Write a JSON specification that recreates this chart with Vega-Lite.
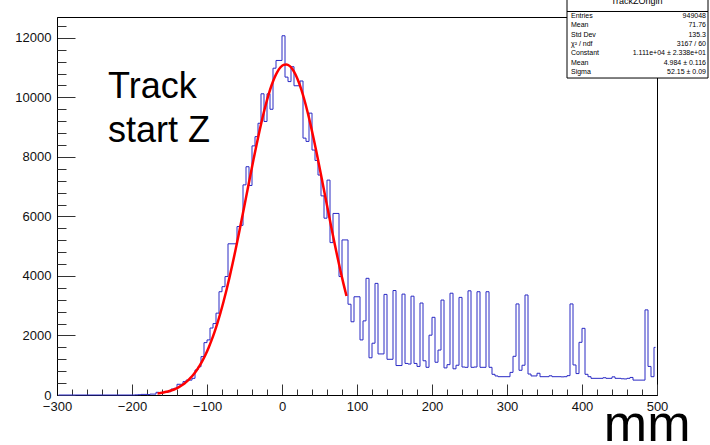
{
  "$schema": "https://vega.github.io/schema/vega-lite/v6.json",
  "width": 600,
  "height": 378,
  "autosize": {"type": "none"},
  "padding": {"left": 57, "top": 17, "right": 53, "bottom": 50},
  "background": "white",
  "config": {
    "font": "Liberation Sans",
    "view": {"stroke": "#000", "strokeWidth": 1}
  },
  "datasets": {
    "hist": [
      {"z": -298, "n": 0}, {"z": -294, "n": 0}, {"z": -290, "n": 0}, {"z": -286, "n": 0}, {"z": -282, "n": 0},
      {"z": -278, "n": 0}, {"z": -274, "n": 0}, {"z": -270, "n": 0}, {"z": -266, "n": 0}, {"z": -262, "n": 0},
      {"z": -258, "n": 0}, {"z": -254, "n": 0}, {"z": -250, "n": 0}, {"z": -246, "n": 0}, {"z": -242, "n": 0},
      {"z": -238, "n": 0}, {"z": -234, "n": 0}, {"z": -230, "n": 0}, {"z": -226, "n": 0}, {"z": -222, "n": 0},
      {"z": -218, "n": 0}, {"z": -214, "n": 0}, {"z": -210, "n": 0}, {"z": -206, "n": 0}, {"z": -202, "n": 0},
      {"z": -198, "n": 0}, {"z": -194, "n": 5}, {"z": -190, "n": 10}, {"z": -186, "n": 20}, {"z": -182, "n": 20},
      {"z": -178, "n": 15}, {"z": -174, "n": 30}, {"z": -170, "n": 30}, {"z": -166, "n": 90}, {"z": -162, "n": 80},
      {"z": -158, "n": 90}, {"z": -154, "n": 90}, {"z": -150, "n": 110}, {"z": -146, "n": 200}, {"z": -142, "n": 225},
      {"z": -138, "n": 360}, {"z": -134, "n": 360}, {"z": -130, "n": 450}, {"z": -126, "n": 500}, {"z": -122, "n": 500},
      {"z": -118, "n": 560}, {"z": -114, "n": 840}, {"z": -110, "n": 950}, {"z": -106, "n": 1290}, {"z": -102, "n": 1760},
      {"z": -98, "n": 1850}, {"z": -94, "n": 2250}, {"z": -90, "n": 2400}, {"z": -86, "n": 2750}, {"z": -82, "n": 3470},
      {"z": -78, "n": 3640}, {"z": -74, "n": 3980}, {"z": -70, "n": 5080}, {"z": -66, "n": 5080}, {"z": -62, "n": 5080},
      {"z": -58, "n": 5660}, {"z": -54, "n": 5700}, {"z": -50, "n": 7060}, {"z": -46, "n": 7670}, {"z": -42, "n": 7040},
      {"z": -38, "n": 8370}, {"z": -34, "n": 8680}, {"z": -30, "n": 9130}, {"z": -26, "n": 10120}, {"z": -22, "n": 9190},
      {"z": -18, "n": 10120}, {"z": -14, "n": 9600}, {"z": -10, "n": 10980}, {"z": -6, "n": 11240}, {"z": -2, "n": 11240},
      {"z": 2, "n": 12070}, {"z": 6, "n": 10680}, {"z": 10, "n": 10530}, {"z": 14, "n": 11030}, {"z": 18, "n": 10390},
      {"z": 22, "n": 10390}, {"z": 26, "n": 10550}, {"z": 30, "n": 8630}, {"z": 34, "n": 8520}, {"z": 38, "n": 9470},
      {"z": 42, "n": 8230}, {"z": 46, "n": 7880}, {"z": 50, "n": 7390}, {"z": 54, "n": 6690}, {"z": 58, "n": 5940},
      {"z": 62, "n": 7220}, {"z": 66, "n": 5120}, {"z": 70, "n": 6100}, {"z": 74, "n": 6100}, {"z": 78, "n": 3980},
      {"z": 82, "n": 5210}, {"z": 86, "n": 5210}, {"z": 90, "n": 3050}, {"z": 94, "n": 2460}, {"z": 98, "n": 3300},
      {"z": 102, "n": 3300}, {"z": 106, "n": 1850}, {"z": 110, "n": 2490}, {"z": 114, "n": 3920}, {"z": 118, "n": 1250},
      {"z": 122, "n": 1740}, {"z": 126, "n": 3750}, {"z": 130, "n": 1380}, {"z": 134, "n": 1380}, {"z": 138, "n": 3380},
      {"z": 142, "n": 1200}, {"z": 146, "n": 1200}, {"z": 150, "n": 3510}, {"z": 154, "n": 990}, {"z": 158, "n": 990},
      {"z": 162, "n": 3390}, {"z": 166, "n": 1060}, {"z": 170, "n": 1040}, {"z": 174, "n": 3320}, {"z": 178, "n": 1060},
      {"z": 182, "n": 960}, {"z": 186, "n": 3090}, {"z": 190, "n": 1150}, {"z": 194, "n": 930}, {"z": 198, "n": 2010},
      {"z": 202, "n": 2610}, {"z": 206, "n": 1100}, {"z": 210, "n": 1510}, {"z": 214, "n": 3190}, {"z": 218, "n": 910},
      {"z": 222, "n": 1020}, {"z": 226, "n": 3420}, {"z": 230, "n": 880}, {"z": 234, "n": 1000}, {"z": 238, "n": 3280},
      {"z": 242, "n": 940}, {"z": 246, "n": 930}, {"z": 250, "n": 3500}, {"z": 254, "n": 930}, {"z": 258, "n": 940},
      {"z": 262, "n": 3470}, {"z": 266, "n": 930}, {"z": 270, "n": 930}, {"z": 274, "n": 3470}, {"z": 278, "n": 930},
      {"z": 282, "n": 695}, {"z": 286, "n": 640}, {"z": 290, "n": 615}, {"z": 294, "n": 615}, {"z": 298, "n": 615},
      {"z": 302, "n": 615}, {"z": 306, "n": 760}, {"z": 310, "n": 1300}, {"z": 314, "n": 3060}, {"z": 318, "n": 830},
      {"z": 322, "n": 1000}, {"z": 326, "n": 3360}, {"z": 330, "n": 705}, {"z": 334, "n": 640}, {"z": 338, "n": 640},
      {"z": 342, "n": 730}, {"z": 346, "n": 615}, {"z": 350, "n": 615}, {"z": 354, "n": 615}, {"z": 358, "n": 645},
      {"z": 362, "n": 615}, {"z": 366, "n": 615}, {"z": 370, "n": 615}, {"z": 374, "n": 610}, {"z": 378, "n": 615},
      {"z": 382, "n": 650}, {"z": 386, "n": 3060}, {"z": 390, "n": 1010}, {"z": 394, "n": 720}, {"z": 398, "n": 1770},
      {"z": 402, "n": 2240}, {"z": 406, "n": 695}, {"z": 410, "n": 615}, {"z": 414, "n": 560}, {"z": 418, "n": 560},
      {"z": 422, "n": 560}, {"z": 426, "n": 560}, {"z": 430, "n": 580}, {"z": 434, "n": 560}, {"z": 438, "n": 560},
      {"z": 442, "n": 610}, {"z": 446, "n": 560}, {"z": 450, "n": 560}, {"z": 454, "n": 545}, {"z": 458, "n": 540},
      {"z": 462, "n": 560}, {"z": 466, "n": 590}, {"z": 470, "n": 500}, {"z": 474, "n": 500}, {"z": 478, "n": 500},
      {"z": 482, "n": 500}, {"z": 486, "n": 2860}, {"z": 490, "n": 960}, {"z": 494, "n": 615}, {"z": 498, "n": 1600}
    ],
    "fit": [
      {"z": -166, "f": 51.4}, {"z": -162, "f": 66.0}, {"z": -158, "f": 84.1}, {"z": -154, "f": 106.5},
      {"z": -150, "f": 134.2}, {"z": -146, "f": 168.0}, {"z": -142, "f": 209.2}, {"z": -138, "f": 259.0},
      {"z": -134, "f": 318.7}, {"z": -130, "f": 389.8}, {"z": -126, "f": 474.0}, {"z": -122, "f": 572.9},
      {"z": -118, "f": 688.5}, {"z": -114, "f": 822.8}, {"z": -110, "f": 977.3}, {"z": -106, "f": 1153.8},
      {"z": -102, "f": 1354.6}, {"z": -98, "f": 1580.7}, {"z": -94, "f": 1834.3}, {"z": -90, "f": 2114.9},
      {"z": -86, "f": 2425.2}, {"z": -82, "f": 2764.4}, {"z": -78, "f": 3132.5}, {"z": -74, "f": 3528.3},
      {"z": -70, "f": 3951.2}, {"z": -66, "f": 4399.2}, {"z": -62, "f": 4868.9}, {"z": -58, "f": 5357.0},
      {"z": -54, "f": 5859.6}, {"z": -50, "f": 6372.3}, {"z": -46, "f": 6888.8}, {"z": -42, "f": 7403.5},
      {"z": -38, "f": 7910.1}, {"z": -34, "f": 8401.6}, {"z": -30, "f": 8871.1}, {"z": -26, "f": 9312.2},
      {"z": -22, "f": 9717.8}, {"z": -18, "f": 10081.6}, {"z": -14, "f": 10397.6}, {"z": -10, "f": 10660.7},
      {"z": -6, "f": 10866.2}, {"z": -2, "f": 11010.8}, {"z": 2, "f": 11091.8}, {"z": 6, "f": 11107.9},
      {"z": 10, "f": 11058.7}, {"z": 14, "f": 10945.3}, {"z": 18, "f": 10769.3}, {"z": 22, "f": 10534.2},
      {"z": 26, "f": 10243.4}, {"z": 30, "f": 9902.5}, {"z": 34, "f": 9516.7}, {"z": 38, "f": 9092.3},
      {"z": 42, "f": 8635.9}, {"z": 46, "f": 8154.4}, {"z": 50, "f": 7654.5}, {"z": 54, "f": 7142.9},
      {"z": 58, "f": 6626.6}, {"z": 62, "f": 6111.4}, {"z": 66, "f": 5603.5}, {"z": 70, "f": 5107.3},
      {"z": 74, "f": 4627.9}, {"z": 78, "f": 4169.1}, {"z": 82, "f": 3733.5}, {"z": 86, "f": 3323.9}
    ],
    "stats": [
      {"row": 1, "label": "Entries", "value": "949048"},
      {"row": 2, "label": "Mean", "value": "71.76"},
      {"row": 3, "label": "Std Dev", "value": "135.3"},
      {"row": 4, "label": "χ² / ndf", "value": "3167 / 60"},
      {"row": 5, "label": "Constant", "value": "1.111e+04 ± 2.338e+01"},
      {"row": 6, "label": "Mean", "value": "4.984 ± 0.116"},
      {"row": 7, "label": "Sigma", "value": "52.15 ± 0.09"}
    ]
  },
  "layer": [
    {
      "layer": [
        {
          "data": {"name": "hist"},
          "mark": {"type": "line", "interpolate": "step", "stroke": "#2a2ac4", "strokeWidth": 1},
          "encoding": {
            "x": {
              "field": "z", "type": "quantitative",
              "scale": {"domain": [-300, 500], "nice": false, "zero": false},
              "axis": {
                "orient": "bottom",
                "title": "mm", "titleFont": "Liberation Sans", "titleFontSize": 52, "titleFontWeight": "normal",
                "titleColor": "#000", "titleAnchor": "end", "titleAlign": "right", "titleBaseline": "alphabetic",
                "titleX": 633, "titleY": 45,
                "values": [-300, -200, -100, 0, 100, 200, 300, 400, 500],
                "tickSize": -11, "labelPadding": 16, "labelFontSize": 13, "labelColor": "#111",
                "labelFont": "Liberation Sans", "labelFlush": false, "labelOverlap": false, "grid": false,
                "domainColor": "#000", "tickColor": "#333", "tickWidth": 1
              }
            },
            "y": {
              "field": "n", "type": "quantitative",
              "scale": {"domain": [0, 12700], "nice": false, "zero": true},
              "axis": {
                "orient": "left",
                "title": null,
                "values": [0, 2000, 4000, 6000, 8000, 10000, 12000],
                "format": "d",
                "tickSize": -18, "labelPadding": 24, "labelFontSize": 13, "labelColor": "#111",
                "labelFont": "Liberation Sans", "labelFlush": false, "labelOverlap": false, "grid": false,
                "domainColor": "#000", "tickColor": "#333", "tickWidth": 1
              }
            }
          }
        },
        {
          "data": {"name": "fit"},
          "mark": {"type": "line", "interpolate": "monotone", "stroke": "#ff0000", "strokeWidth": 2.5},
          "encoding": {
            "x": {"field": "z", "type": "quantitative"},
            "y": {"field": "f", "type": "quantitative"}
          }
        },
        {
          "data": {"values": [{"note": "Track start Z"}]},
          "mark": {"type": "text", "text": ["Track", "start Z"], "align": "left", "baseline": "alphabetic",
                   "font": "Liberation Sans", "fontSize": 36, "lineHeight": 44, "color": "#000"},
          "encoding": {"x": {"datum": -232}, "y": {"datum": 9978}}
        },
        {
          "data": {"values": [{"box": "stats"}]},
          "mark": {"type": "rect", "fill": "white", "stroke": "#000", "strokeWidth": 1},
          "encoding": {"x": {"datum": 380}, "x2": {"datum": 568}, "y": {"datum": 10650}, "y2": {"datum": 13439}}
        },
        {
          "data": {"values": [{"box": "stats"}]},
          "mark": {"type": "rule", "stroke": "#000", "strokeWidth": 1},
          "encoding": {"x": {"datum": 380}, "x2": {"datum": 568}, "y": {"datum": 12885}}
        },
        {
          "data": {"values": [{"box": "stats"}]},
          "mark": {"type": "text", "text": "TrackZOrigin", "align": "center", "baseline": "alphabetic",
                   "font": "Liberation Sans", "fontSize": 9, "color": "#000"},
          "encoding": {"x": {"datum": 473}, "y": {"datum": 13137}}
        }
      ]
    },
    {
      "data": {"name": "hist"},
      "mark": {"type": "point", "opacity": 0},
      "encoding": {
        "x": {
          "field": "z", "type": "quantitative",
          "axis": {
            "orient": "bottom", "title": null, "labels": false, "domain": false,
            "values": [-280,-260,-240,-220,-180,-160,-140,-120,-80,-60,-40,-20,20,40,60,80,120,140,160,180,220,240,260,280,320,340,360,380,420,440,460,480],
            "tickSize": -6, "tickColor": "#333", "tickWidth": 1, "grid": false
          }
        },
        "y": {
          "field": "n", "type": "quantitative",
          "scale": {"domain": [0, 12700], "nice": false, "zero": true},
          "axis": {
            "orient": "left", "title": null, "labels": false, "domain": false,
            "values": [400,800,1200,1600,2400,2800,3200,3600,4400,4800,5200,5600,6400,6800,7200,7600,8400,8800,9200,9600,10400,10800,11200,11600,12400],
            "tickSize": -9, "tickColor": "#333", "tickWidth": 1, "grid": false
          }
        }
      }
    },
    {
      "data": {"name": "stats"},
      "mark": {"type": "text", "align": "left", "baseline": "middle", "font": "Liberation Sans", "fontSize": 7, "color": "#000"},
      "encoding": {
        "x": {"datum": 385.3, "axis": null},
        "y": {"field": "row", "type": "ordinal", "scale": {"type": "point", "padding": 0, "range": [-1, 55]}, "axis": null},
        "text": {"field": "label"}
      }
    },
    {
      "data": {"name": "stats"},
      "mark": {"type": "text", "align": "right", "baseline": "middle", "font": "Liberation Sans", "fontSize": 7, "color": "#000"},
      "encoding": {
        "x": {"datum": 565.3, "axis": null},
        "y": {"field": "row", "type": "ordinal", "scale": {"type": "point", "padding": 0, "range": [-1, 55]}, "axis": null},
        "text": {"field": "value"}
      }
    }
  ],
  "resolve": {"scale": {"y": "independent"}, "axis": {"x": "independent", "y": "independent"}}
}
